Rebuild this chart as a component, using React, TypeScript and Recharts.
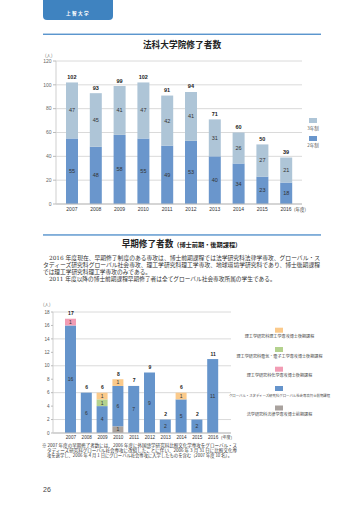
import React from "react"
import { ComposedChart, Bar, Line, XAxis, YAxis, CartesianGrid, LabelList } from "recharts"

// 法科大学院修了者数
const years = ["2007", "2008", "2009", "2010", "2011", "2012", "2013", "2014", "2015", "2016"]
const twoYear = [55, 48, 58, 55, 49, 53, 40, 34, 23, 18]
const threeYear = [47, 45, 41, 47, 42, 41, 31, 26, 27, 21]
const lawTicks = [0, 20, 40, 60, 80, 100, 120]

// 早期修了者数
const lawMaster = [0, 0, 0, 1, 0, 0, 0, 0, 0, 0]
const globalMaster = [16, 6, 4, 6, 7, 9, 2, 5, 2, 11]
const chemDoctor = [1, 0, 0, 0, 0, 0, 0, 0, 0, 0]
const elecDoctor = [0, 0, 1, 0, 0, 0, 0, 0, 0, 0]
const sciDoctor = [0, 0, 1, 1, 0, 0, 0, 1, 0, 0]
const earlyTicks = [0, 2, 4, 6, 8, 10, 12, 14, 16, 18]

const LIGHT = "#aec5d7"
const DARK = "#6a96cc"

const earlySeries = [
  { key: "law", name: "法学研究科法律学専攻博士前期課程", color: "#a9a29e", values: lawMaster },
  { key: "global", name: "グローバル・スタディーズ研究科グローバル社会専攻博士前期課程", color: "#6594cb", values: globalMaster },
  { key: "chem", name: "理工学研究科化学専攻博士後期課程", color: "#f29cb4", values: chemDoctor },
  { key: "elec", name: "理工学研究科電気・電子工学専攻博士後期課程", color: "#b4d28e", values: elecDoctor },
  { key: "sci", name: "理工学研究科理工学専攻博士後期課程", color: "#fbca8b", values: sciDoctor },
]

const lawData = years.map((y, i) => ({
  year: y,
  two: twoYear[i],
  three: threeYear[i],
  total: twoYear[i] + threeYear[i],
}))

const earlyData = years.map((y, i) => {
  const row: any = { year: y, total: 0 }
  earlySeries.forEach((s) => {
    row[s.key] = s.values[i]
    row.total += s.values[i]
  })
  return row
})

const SANS = "'Liberation Sans', 'Noto Sans CJK JP', sans-serif"
const JP = "'Noto Sans CJK JP', sans-serif"
const SERIF = "'DejaVu Serif', 'Noto Sans CJK JP', serif"

const hideZero = (v: any) => (v ? v : "")

function YearTick(props: any) {
  const { x, y, payload, fontSize } = props
  return (
    <g>
      <text x={x} y={y} dy={fontSize * 0.9} textAnchor="middle" fontSize={fontSize} fill="#333" fontFamily={SANS}>
        {payload.value}
      </text>
      {payload.value === "2016" && (
        <text x={x + 8} y={y} dy={fontSize * 0.9} fontSize={fontSize * 0.9} fill="#333" fontFamily={JP}>
          (年度)
        </text>
      )}
    </g>
  )
}

function LawChart() {
  return (
    <div style={{ position: "absolute", left: 0, top: 48 }}>
      <ComposedChart width={360} height={170} data={lawData} margin={{ top: 13, right: 58, bottom: 2, left: 26 }}>
        <CartesianGrid vertical={false} stroke="#dadada" />
        <XAxis
          dataKey="year"
          height={12}
          padding={{ left: 4, right: 4 }}
          tickLine={false}
          tickSize={1}
          tickMargin={1}
          axisLine={{ stroke: "#bdbdbd" }}
          tick={<YearTick fontSize={5} />}
          interval={0}
        />
        <YAxis
          width={30}
          domain={[0, 120]}
          ticks={lawTicks}
          tickSize={3}
          tickMargin={1.5}
          tickLine={{ stroke: "#bbb" }}
          axisLine={{ stroke: "#cfcfcf" }}
          tick={{ fontSize: 5, fill: "#666", fontFamily: SANS }}
        />
        <Bar dataKey="two" stackId="a" fill={DARK} barSize={12} isAnimationActive={false}>
          <LabelList dataKey="two" position="center" fontSize={5.5} fill="#333" fontFamily={SANS} />
        </Bar>
        <Bar dataKey="three" stackId="a" fill={LIGHT} barSize={12} isAnimationActive={false}>
          <LabelList dataKey="three" position="center" fontSize={5.5} fill="#333" fontFamily={SANS} />
        </Bar>
        <Line dataKey="total" stroke="none" dot={false} activeDot={false} isAnimationActive={false}>
          <LabelList dataKey="total" position="top" offset={3.5} fontSize={5.5} fill="#222" fontWeight={600} fontFamily={SANS} />
        </Line>
      </ComposedChart>
    </div>
  )
}

function EarlyChart() {
  return (
    <div style={{ position: "absolute", left: 0, top: 300 }}>
      <ComposedChart width={240} height={145} data={earlyData} margin={{ top: 12, right: 9, bottom: 1, left: 28 }}>
        <CartesianGrid vertical={false} stroke="#dadada" />
        <XAxis
          dataKey="year"
          height={11}
          padding={{ left: 10, right: 10 }}
          tickLine={false}
          tickSize={1}
          tickMargin={1}
          axisLine={{ stroke: "#bdbdbd" }}
          tick={<YearTick fontSize={4.6} />}
          interval={0}
        />
        <YAxis
          width={25}
          domain={[0, 18]}
          ticks={earlyTicks}
          tickSize={2}
          tickMargin={1.5}
          tickLine={{ stroke: "#bbb" }}
          axisLine={{ stroke: "#cfcfcf" }}
          tick={{ fontSize: 4.6, fill: "#555", fontFamily: SANS }}
        />
        {earlySeries.map((s) => (
          <Bar key={s.key} dataKey={s.key} stackId="b" fill={s.color} barSize={11} isAnimationActive={false}>
            <LabelList dataKey={s.key} position="center" formatter={hideZero} fontSize={5} fill="#333" fontFamily={SANS} />
          </Bar>
        ))}
        <Line dataKey="total" stroke="none" dot={false} activeDot={false} isAnimationActive={false}>
          <LabelList dataKey="total" position="top" offset={3.5} fontSize={5} fill="#222" fontWeight={600} fontFamily={SANS} />
        </Line>
      </ComposedChart>
    </div>
  )
}

function PageText() {
  const legendY = [327.7, 347, 366.7, 386, 405.5]
  const legendOrder = [...earlySeries].reverse()
  return (
    <svg width={360} height={509} style={{ position: "absolute", left: 0, top: 0 }}>
      {/* header tab */}
      <rect x={43} y={-5} width={70} height={25} rx={4} fill="#3f83c0" />
      <text x={78} y={14.5} textAnchor="middle" fontSize={4.6} fill="#fff" fontWeight={700} letterSpacing={1.4} fontFamily={JP}>
        上智大学
      </text>
      <rect x={43} y={33.6} width={278} height={1.3} fill="#4a8bc9" />
      <text x={182} y={48} textAnchor="middle" fontSize={8.7} fontWeight={700} fill="#222" fontFamily={JP}>
        法科大学院修了者数
      </text>
      <text x={45} y={57} fontSize={4.5} fill="#666" fontFamily={JP}>(人)</text>

      {/* legend 1 */}
      <rect x={309} y={118} width={8} height={5} fill={LIGHT} />
      <text x={313} y={129.5} textAnchor="middle" fontSize={4.5} fill="#555" fontFamily={JP}>3年制</text>
      <rect x={309} y={136} width={8} height={5} fill={DARK} />
      <text x={313} y={147} textAnchor="middle" fontSize={4.5} fill="#555" fontFamily={JP}>2年制</text>

      {/* section 2 */}
      <rect x={43} y={234.3} width={278} height={1.3} fill="#4a8bc9" />
      <text x={181.5} y={247} textAnchor="middle" fontWeight={700} fill="#222" fontFamily={JP}>
        <tspan fontSize={8.6}>早期修了者数</tspan>
        <tspan fontSize={6.2}>（博士前期・後期課程）</tspan>
      </text>
      <g fontSize={5.7} fill="#333" fontFamily={SERIF}>
        <text x={49} y={259.5} textLength={271} lengthAdjust="spacingAndGlyphs">
          2016 年度現在、早期修了制度のある専攻は、博士前期課程では法学研究科法律学専攻、グローバル・ス
        </text>
        <text x={43} y={266.5} textLength={277} lengthAdjust="spacingAndGlyphs">
          タディーズ研究科グローバル社会専攻、理工学研究科理工学専攻、地球環境学研究科であり、博士後期課程
        </text>
        <text x={43} y={273.5}>では理工学研究科理工学専攻のみである。</text>
        <text x={49} y={280.5}>2011 年度以降の博士前期課程早期修了者は全てグローバル社会専攻所属の学生である。</text>
      </g>
      <text x={43} y={306} fontSize={4.5} fill="#666" fontFamily={JP}>(人)</text>

      {/* legend 2 */}
      {legendOrder.map((s, i) => (
        <g key={s.key}>
          <rect x={275} y={legendY[i]} width={8} height={5} fill={s.color} />
          <text
            x={279.5}
            y={legendY[i] + 10.5}
            textAnchor="middle"
            fontSize={s.key === "global" ? 3.4 : 4.1}
            fill="#444"
            fontFamily={JP}
          >
            {s.name}
          </text>
        </g>
      ))}

      {/* footnote */}
      <g fontSize={4.5} fill="#333" fontFamily={JP}>
        <text x={42} y={446.5} textLength={195} lengthAdjust="spacingAndGlyphs">
          ※ 2007 年度の早期修了者数には、2006 年度に外国語学研究科比較文化学専攻をグローバル・ス
        </text>
        <text x={47} y={451.8} textLength={190} lengthAdjust="spacingAndGlyphs">
          タディーズ研究科グローバル社会専攻に改組したことに伴い、2006 年 3 月 31 日に比較文化専
        </text>
        <text x={47} y={457} textLength={185} lengthAdjust="spacingAndGlyphs">
          攻を退学し、2006 年 4 月 1 日にグローバル社会専攻に入学したものを含む（2007 年度 10 名）。
        </text>
      </g>
      <text x={43} y={492} fontSize={7} fill="#444" fontFamily={SANS}>26</text>
    </svg>
  )
}

export default function App() {
  return (
    <div style={{ position: "absolute", left: 0, top: 0, width: 360, height: 509, background: "#fff", overflow: "hidden" }}>
      <PageText />
      <LawChart />
      <EarlyChart />
    </div>
  )
}
